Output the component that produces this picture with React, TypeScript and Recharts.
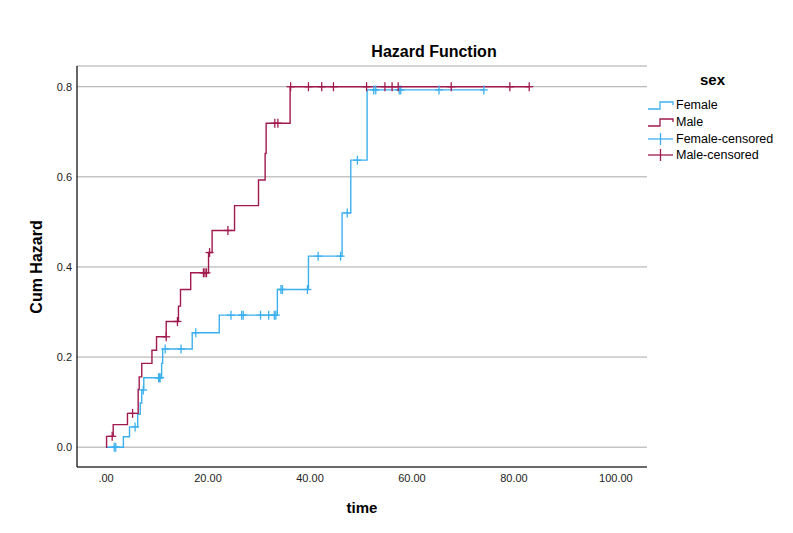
import React from 'react';
import { ComposedChart, Line, Scatter, XAxis, YAxis, CartesianGrid, Legend, Label } from 'recharts';

const FONT = '"Liberation Sans", Arial, sans-serif';
const FEMALE_COLOR = '#3cb0ef';
const MALE_COLOR = '#a11a4e';

// step points of the cumulative hazard (time, value)
const femaleTimes = [0, 3.4, 4.6, 6.2, 6.7, 7.0, 7.4, 10.9, 11.1, 16.9, 22.2, 33.6, 39.7, 46.3, 48.0, 51.2, 74.1];
const femaleHazard = [0, 0.023, 0.045, 0.073, 0.098, 0.127, 0.154, 0.186, 0.218, 0.254, 0.293, 0.35, 0.424, 0.52, 0.637, 0.793, 0.793];

const maleTimes = [0, 0.1, 1.4, 4.2, 6.3, 6.5, 7.0, 9.0, 9.9, 11.8, 14.2, 14.6, 16.6, 20.1, 20.8, 25.2, 29.9, 31.2, 31.4, 36.1, 83.0];
const maleHazard = [0, 0.024, 0.05, 0.075, 0.128, 0.156, 0.186, 0.215, 0.245, 0.279, 0.313, 0.35, 0.387, 0.432, 0.481, 0.536, 0.593, 0.652, 0.719, 0.8, 0.8];

// censored observations
const femaleCensorTimes = [1.6, 1.9, 5.7, 7.3, 10.3, 10.5, 10.6, 11.6, 14.7, 17.6, 24.5, 26.6, 26.9, 30.3, 31.9, 33.0, 33.3, 34.3, 34.6, 39.5, 41.6, 46.0, 47.3, 49.3, 52.5, 52.9, 57.5, 57.8, 65.3, 74.1];
const femaleCensorHazard = [0, 0, 0.045, 0.127, 0.154, 0.154, 0.154, 0.218, 0.218, 0.254, 0.293, 0.293, 0.293, 0.293, 0.293, 0.293, 0.293, 0.35, 0.35, 0.35, 0.424, 0.424, 0.52, 0.637, 0.793, 0.793, 0.793, 0.793, 0.793, 0.793];

const maleCensorTimes = [1.2, 5.2, 11.8, 14.0, 19.1, 19.4, 19.7, 20.3, 23.9, 33.1, 33.7, 36.2, 39.7, 42.3, 44.6, 51.1, 54.7, 56.1, 57.3, 67.7, 79.2, 83.0];
const maleCensorHazard = [0.024, 0.075, 0.245, 0.279, 0.387, 0.387, 0.387, 0.432, 0.481, 0.719, 0.719, 0.8, 0.8, 0.8, 0.8, 0.8, 0.8, 0.8, 0.8, 0.8, 0.8, 0.8];

const xTicks = [0, 20, 40, 60, 80, 100];
const yTicks = [0, 0.2, 0.4, 0.6, 0.8];

const zip = (ts: number[], vs: number[]) => ts.map((t, i) => ({ t, v: vs[i] }));

const femaleData = zip(femaleTimes, femaleHazard);
const maleData = zip(maleTimes, maleHazard);
const femaleCensored = zip(femaleCensorTimes, femaleCensorHazard);
const maleCensored = zip(maleCensorTimes, maleCensorHazard);

const cross = (color: string) => (props: any) => {
  const { cx, cy } = props;
  return (
    <g stroke={color} strokeWidth={1.3}>
      <line x1={cx - 4} x2={cx + 4} y1={cy} y2={cy} />
      <line x1={cx} x2={cx} y1={cy - 4.5} y2={cy + 4.5} />
    </g>
  );
};

const legendItems = [
  { name: 'Female', color: FEMALE_COLOR, kind: 'step' },
  { name: 'Male', color: MALE_COLOR, kind: 'step' },
  { name: 'Female-censored', color: FEMALE_COLOR, kind: 'cross' },
  { name: 'Male-censored', color: MALE_COLOR, kind: 'cross' },
];

const SexLegend = () => (
  <div style={{ fontFamily: FONT, color: '#000' }}>
    <div style={{ fontWeight: 'bold', fontSize: 15, marginLeft: 52, marginBottom: 9, marginTop: 1 }}>sex</div>
    {legendItems.map((it) => (
      <div key={it.name} style={{ display: 'flex', alignItems: 'center', height: 16.7 }}>
        <svg width={28} height={14}>
          {it.kind === 'step' ? (
            <polyline points="0,11 12,11 12,4 25,4 25,7" fill="none" stroke={it.color} strokeWidth={1.3} />
          ) : (
            <g stroke={it.color} strokeWidth={1.3}>
              <line x1={0} x2={25} y1={7} y2={7} />
              <line x1={12.5} x2={12.5} y1={1} y2={13} />
            </g>
          )}
        </svg>
        <span style={{ fontSize: 12.5 }}>{it.name}</span>
      </div>
    ))}
  </div>
);

export default function App() {
  return (
    <div style={{ position: 'absolute', left: 0, top: 0, width: 793, height: 533, background: '#fff' }}>
      <div
        style={{
          position: 'absolute', left: 0, width: 868, top: 43, textAlign: 'center',
          fontFamily: FONT, fontWeight: 'bold', fontSize: 16, color: '#000',
        }}
      >
        Hazard Function
      </div>
      <ComposedChart width={793} height={533} margin={{ top: 66, right: 146, bottom: 0, left: 0 }}>
        <CartesianGrid horizontal vertical={false} stroke="#a8a8a8" strokeWidth={1} />
        <XAxis
          dataKey="t"
          type="number"
          domain={[-5.7, 106.1]}
          ticks={xTicks}
          allowDataOverflow
          height={66}
          tickLine={false}
          tickSize={0}
          tickMargin={7}
          axisLine={{ stroke: '#000', strokeWidth: 1.2 }}
          tick={{ fontSize: 11, fill: '#222', fontFamily: FONT }}
          tickFormatter={(v: number) => (v === 0 ? '.00' : v.toFixed(2))}
        >
          <Label value="time" position="insideBottom" offset={20} style={{ fontFamily: FONT, fontWeight: 'bold', fontSize: 15, fill: '#000' }} />
        </XAxis>
        <YAxis
          type="number"
          domain={[-0.044, 0.846]}
          ticks={yTicks}
          allowDataOverflow
          width={77}
          tickLine={false}
          tickSize={0}
          tickMargin={5}
          axisLine={{ stroke: '#000', strokeWidth: 1.2 }}
          tick={{ fontSize: 11, fill: '#222', fontFamily: FONT }}
          tickFormatter={(v: number) => v.toFixed(1)}
        >
          <Label
            content={() => (
              <text x={36} y={267} transform="rotate(-90 36 267)" textAnchor="middle" dominantBaseline="central"
                style={{ fontFamily: FONT, fontWeight: 'bold', fontSize: 16, fill: '#000' }}>
                Cum Hazard
              </text>
            )}
          />
        </YAxis>
        <Legend
          layout="vertical"
          align="center"
          verticalAlign="middle"
          content={() => <SexLegend />}
          wrapperStyle={{ position: 'absolute', left: 648, top: 70, width: 145 }}
        />
        <Line data={femaleData} dataKey="v" type="stepAfter" stroke={FEMALE_COLOR} strokeWidth={1.4} dot={false} activeDot={false} isAnimationActive={false} legendType="none" />
        <Line data={maleData} dataKey="v" type="stepAfter" stroke={MALE_COLOR} strokeWidth={1.4} dot={false} activeDot={false} isAnimationActive={false} legendType="none" />
        <Scatter data={femaleCensored} dataKey="v" shape={cross(FEMALE_COLOR)} isAnimationActive={false} legendType="none" />
        <Scatter data={maleCensored} dataKey="v" shape={cross(MALE_COLOR)} isAnimationActive={false} legendType="none" />
      </ComposedChart>
    </div>
  );
}
